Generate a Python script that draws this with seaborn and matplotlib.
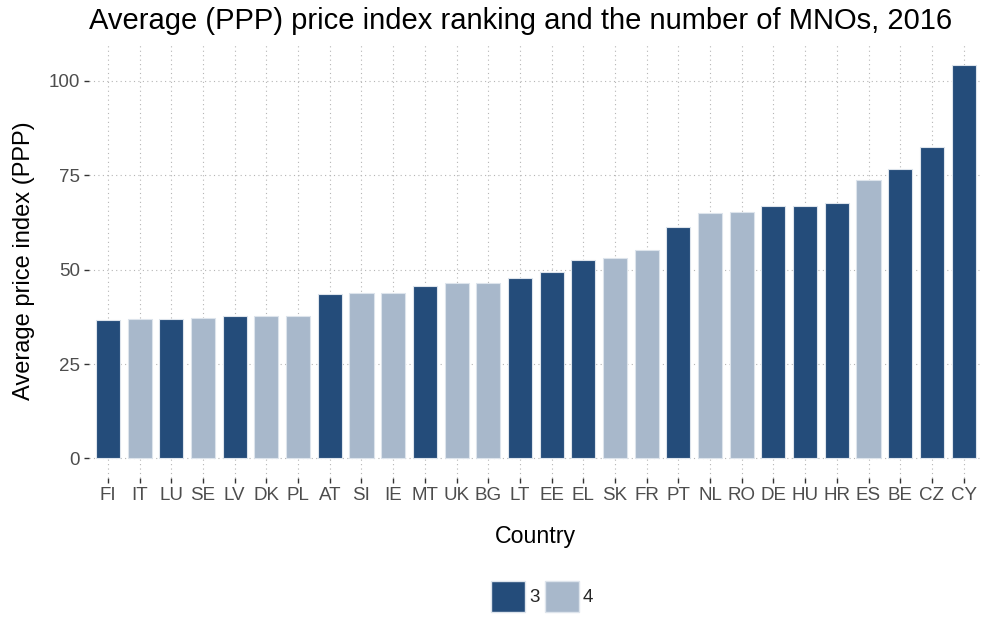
import numpy as np
import pandas as pd
import matplotlib
matplotlib.use("Agg")
import matplotlib.pyplot as plt
import seaborn as sns
from matplotlib.patches import Patch

# data
countries = ["FI", "IT", "LU", "SE", "LV", "DK", "PL", "AT", "SI", "IE", "MT", "UK", "BG", "LT",
             "EE", "EL", "SK", "FR", "PT", "NL", "RO", "DE", "HU", "HR", "ES", "BE", "CZ", "CY"]
price_index = [36.6, 36.9, 36.9, 37.3, 37.8, 37.8, 37.8, 43.5, 43.9, 43.9, 45.6, 46.4, 46.4, 47.7,
               49.3, 52.6, 53.0, 55.1, 61.4, 65.1, 65.4, 66.8, 66.8, 67.6, 73.7, 76.7, 82.4, 104.3]
mnos = ["3", "4", "3", "4", "3", "4", "4", "3", "4", "4", "3", "4", "4", "3",
        "3", "3", "4", "4", "3", "4", "4", "3", "3", "3", "4", "3", "3", "3"]

df = pd.DataFrame({"country": countries, "price": price_index, "mno": mnos})
colors = {"3": "#244c7a", "4": "#a8b8cb"}

sns.set_style("white")
plt.rcParams["font.family"] = ["Liberation Sans", "DejaVu Sans"]

fig = plt.figure(figsize=(9.82, 6.17), dpi=100)
ax = fig.add_axes([0.0906, 0.2253, 0.91, 0.7034])

sns.barplot(data=df, x="country", y="price", hue="mno", order=countries,
            palette=colors, saturation=1, dodge=False, width=0.76, edgecolor="#dde4ec",
            linewidth=0.8, legend=False, ax=ax, zorder=2)

ax.set_xlim(-0.6, len(countries) - 0.4)
ax.set_ylim(-5.2, 109.8)
ax.set_yticks([0, 25, 50, 75, 100])
ax.grid(True, linestyle=(0, (1, 3)), color="#b5b5b5", linewidth=0.8, zorder=0)
ax.set_axisbelow(True)
for s in ax.spines.values():
    s.set_visible(False)

ax.tick_params(axis="both", bottom=True, left=True, length=3.5, width=1, color="#333333",
               labelcolor="#4d4d4d", labelsize=13.5, pad=3)
ax.set_xlabel("Country", fontsize=16.7, labelpad=15, color="black")
ax.set_ylabel("Average price index (PPP)", fontsize=17, labelpad=10, color="black")
ax.set_title("Average (PPP) price index ranking and the number of MNOs, 2016",
             fontsize=21, pad=11, loc="left", color="black")

handles = [Patch(facecolor=colors[k], edgecolor="#dde4ec", label=k) for k in ["3", "4"]]
fig.legend(handles=handles, loc="center", bbox_to_anchor=(0.552, 0.033), ncol=2,
           frameon=False, fontsize=13.5, handlelength=1.8, handleheight=2.2,
           handletextpad=0.2, columnspacing=0.3, borderpad=0)

fig.savefig("out.png", dpi=100)
